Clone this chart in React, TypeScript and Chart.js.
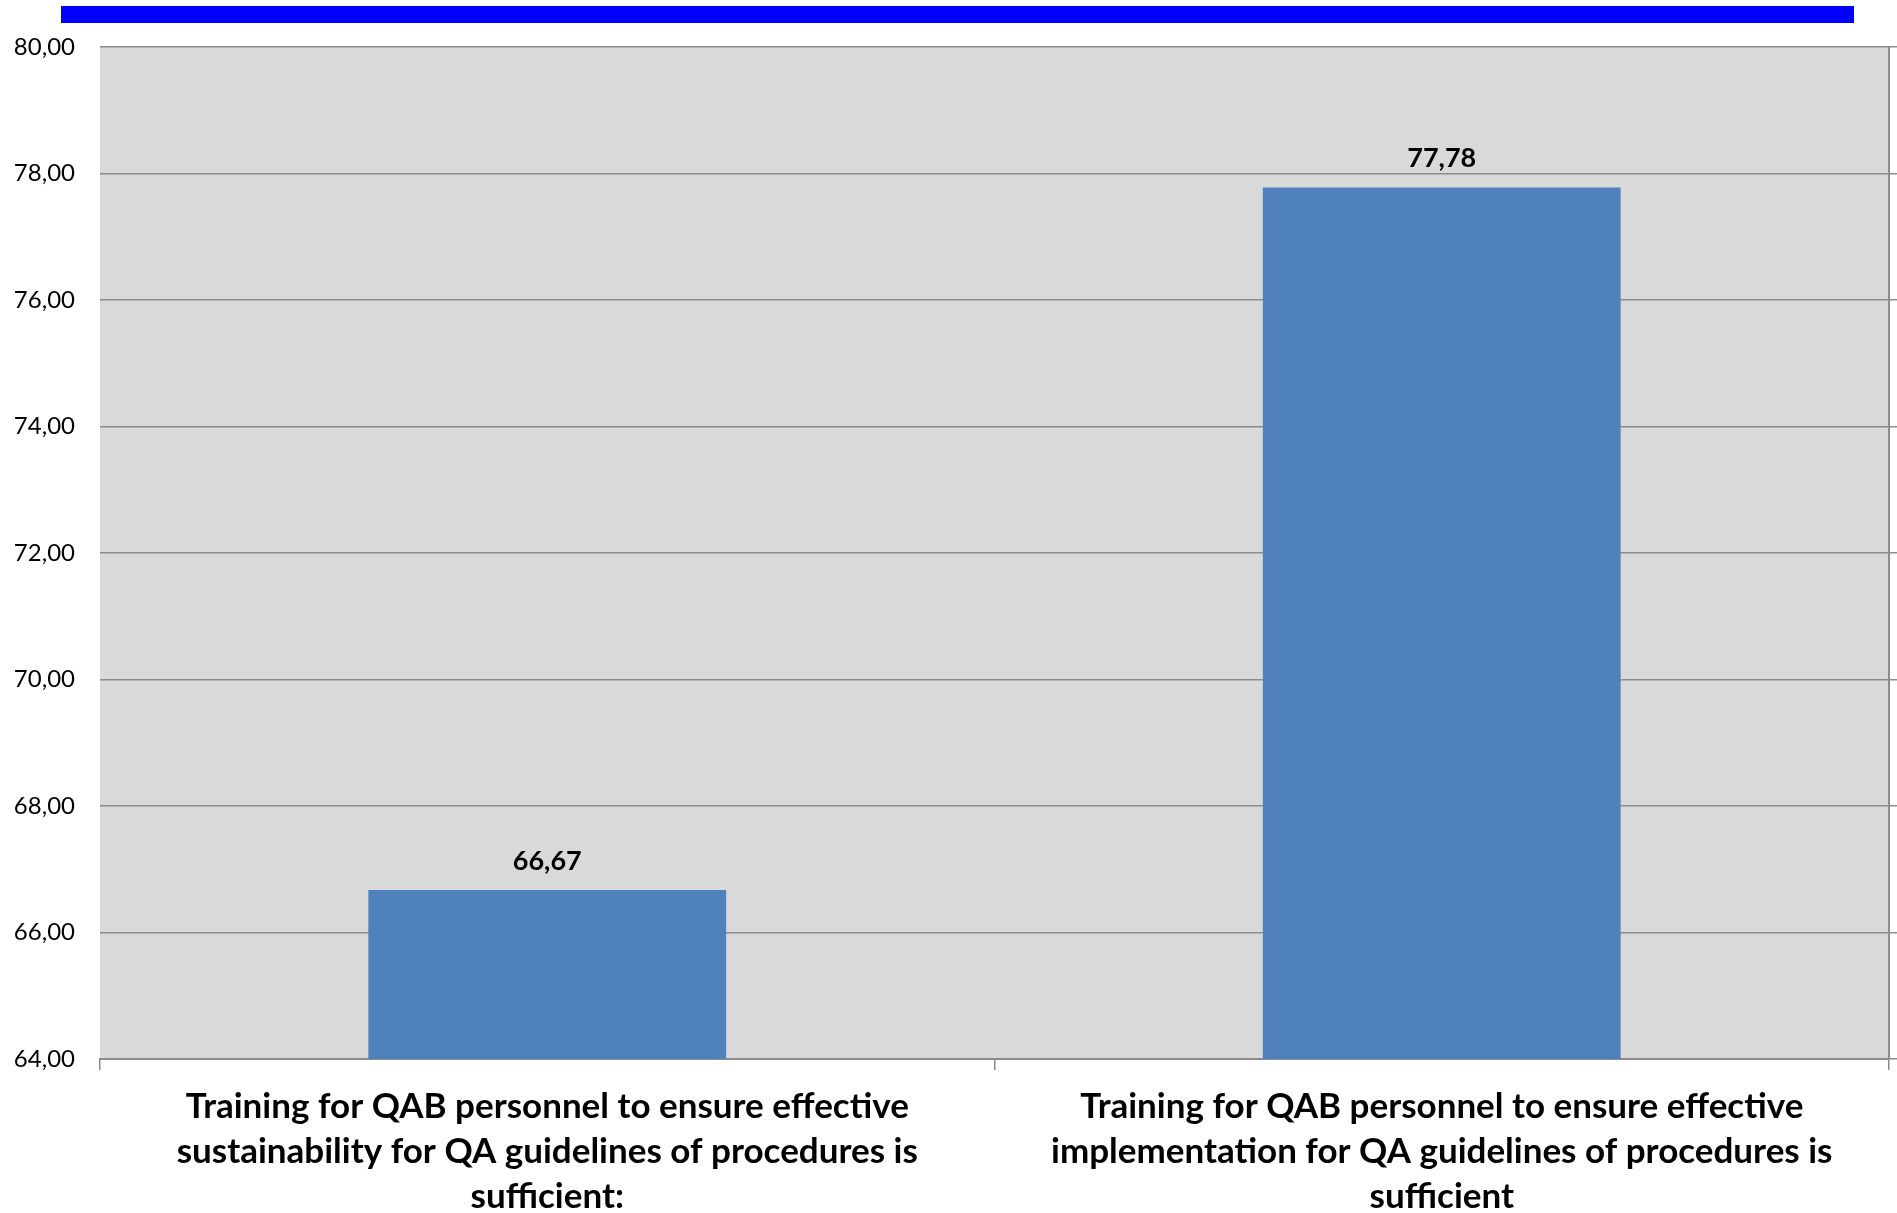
import React, { useEffect, useRef } from "react";
import { Chart, registerables } from "chart.js";

Chart.register(...registerables);

const categories: string[][] = [
  [
    "Training for QAB personnel to ensure effective",
    "sustainability for QA guidelines of procedures is",
    "sufficient:",
  ],
  [
    "Training for QAB personnel to ensure effective",
    "implementation for QA guidelines of procedures is",
    "sufficient",
  ],
];
const values: number[] = [66.67, 77.78];
const yMin = 64;
const yMax = 80;
const yStep = 2;

const fmt = (v: number) => v.toFixed(2).replace(".", ",");

const FONT = "Lato, 'DejaVu Sans', sans-serif";

const bgPlugin = {
  id: "plotBg",
  beforeDraw(chart: any) {
    const { ctx, chartArea } = chart;
    ctx.save();
    ctx.fillStyle = "#D9D9D9";
    ctx.fillRect(chartArea.left, chartArea.top, chartArea.right - chartArea.left, chartArea.bottom - chartArea.top);
    ctx.restore();
  },
};

const labelPlugin = {
  id: "barLabels",
  afterDatasetsDraw(chart: any) {
    const { ctx } = chart;
    const meta = chart.getDatasetMeta(0);
    ctx.save();
    ctx.font = `bold 27px ${FONT}`;
    ctx.fillStyle = "#000000";
    ctx.textAlign = "center";
    ctx.textBaseline = "middle";
    meta.data.forEach((el: any, i: number) => {
      ctx.fillText(fmt(values[i]), el.x, el.y - 29);
    });
    ctx.restore();
  },
};

export default function App() {
  const ref = useRef<HTMLCanvasElement | null>(null);

  useEffect(() => {
    document.body.style.margin = "0";
    if (!ref.current) return;
    const chart = new Chart(ref.current, {
      type: "bar",
      data: {
        labels: categories,
        datasets: [
          {
            data: values,
            backgroundColor: "#4F81BD",
            borderWidth: 0,
            barPercentage: 0.4,
            categoryPercentage: 1,
          },
        ],
      },
      options: {
        animation: false,
        responsive: false,
        maintainAspectRatio: false,
        layout: { padding: { top: 47, left: 0, right: 0, bottom: 0 } },
        plugins: {
          legend: { display: false },
          tooltip: { enabled: false },
          title: { display: false },
        },
        scales: {
          x: {
            offset: true,
            grid: {
              offset: true,
              drawOnChartArea: false,
              drawTicks: true,
              tickLength: 11,
              color: "#8C8C8C",
              lineWidth: 1.5,
            },
            border: { display: true, color: "#8C8C8C", width: 2 },
            ticks: {
              color: "#000000",
              padding: 14,
              maxRotation: 0,
              autoSkip: false,
              font: { family: FONT, size: 35, weight: "bold", lineHeight: 45 / 35 },
            },
            afterFit(scale: any) {
              scale.height = 154;
            },
          },
          y: {
            position: "left",
            min: yMin,
            max: yMax,
            ticks: {
              stepSize: yStep,
              color: "#000000",
              padding: 25,
              font: { family: FONT, size: 24 },
              callback: (v: any) => fmt(Number(v)),
            },
            grid: {
              drawTicks: false,
              color: "#8C8C8C",
              lineWidth: 1.5,
            },
            border: { display: false },
            afterFit(scale: any) {
              scale.width = 100;
            },
          },
          yRight: {
            position: "right",
            min: yMin,
            max: yMax,
            ticks: { stepSize: yStep, display: false },
            grid: {
              drawOnChartArea: false,
              drawTicks: true,
              tickLength: 8,
              color: "#8C8C8C",
              lineWidth: 1.5,
            },
            border: { display: true, color: "#8C8C8C", width: 2 },
            afterFit(scale: any) {
              scale.width = 8;
            },
          },
        },
      } as any,
      plugins: [bgPlugin, labelPlugin],
    });
    return () => chart.destroy();
  }, []);

  return (
    <div style={{ position: "relative", width: 1897, height: 1213, background: "#FFFFFF" }}>
      <div
        style={{
          position: "absolute",
          left: 61,
          top: 6,
          width: 1793,
          height: 17,
          background: "#0000FF",
        }}
      />
      <canvas ref={ref} width={1897} height={1213} style={{ position: "absolute", left: 0, top: 0 }} />
    </div>
  );
}
